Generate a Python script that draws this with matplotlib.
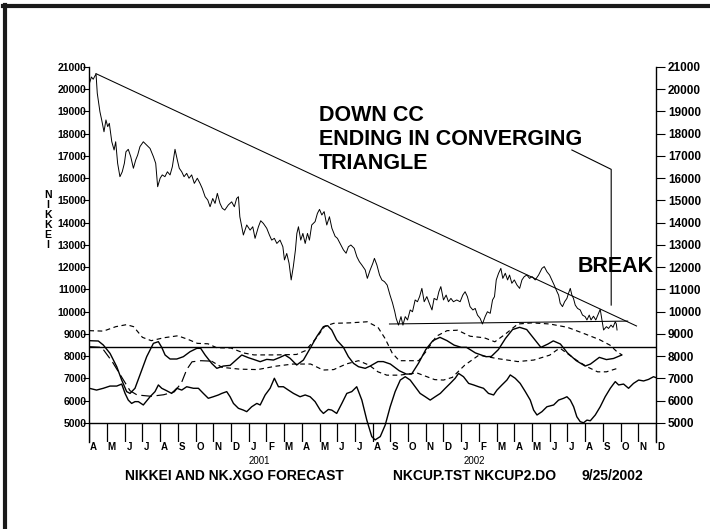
import matplotlib
matplotlib.use("Agg")
import matplotlib.pyplot as plt
from matplotlib.lines import Line2D
from matplotlib.transforms import blended_transform_factory

plt.rcParams["font.family"] = ["Liberation Sans", "DejaVu Sans"]

# x values are months since 1 April 2000
price_m = [0.02, 0.12, 0.22, 0.38, 0.45, 0.6, 0.7, 0.83, 0.94, 1.04, 1.13, 1.27, 1.4, 1.49,
           1.6, 1.73, 1.86, 1.98, 2.07, 2.2, 2.34, 2.49, 2.62, 2.73, 2.86, 3.05, 3.24, 3.43,
           3.62, 3.75, 3.86, 4.0, 4.12, 4.27, 4.41, 4.56, 4.69, 4.84, 4.97, 5.08, 5.22, 5.35,
           5.5, 5.63, 5.78, 5.93, 6.1, 6.25, 6.38, 6.54, 6.69, 6.82, 6.97, 7.1, 7.23, 7.38,
           7.51, 7.65, 7.85, 8.04, 8.19, 8.32, 8.42, 8.5, 8.7, 8.89, 9.08, 9.23, 9.36, 9.55,
           9.68, 9.83, 10.02, 10.17, 10.3, 10.45, 10.59, 10.77, 10.93, 11.02, 11.15, 11.28,
           11.4, 11.52, 11.64, 11.72, 11.81, 11.94, 12.06, 12.19, 12.32, 12.43, 12.56, 12.75,
           12.88, 13.0, 13.13, 13.26, 13.41, 13.56, 13.7, 13.88, 14.01, 14.16, 14.35, 14.5,
           14.63, 14.77, 14.96, 15.11, 15.25, 15.39, 15.58, 15.7, 15.86, 16.01, 16.1, 16.24,
           16.39, 16.52, 16.67, 16.82, 16.98, 17.12, 17.25, 17.33, 17.46, 17.6, 17.71, 17.84,
           17.97, 18.12, 18.25, 18.4, 18.53, 18.65, 18.78, 18.91, 19.06, 19.2, 19.35, 19.47,
           19.63, 19.74, 19.85, 20.0, 20.15, 20.28, 20.42, 20.56, 20.75, 20.94, 21.09, 21.22,
           21.35, 21.5, 21.66, 21.79, 21.92, 22.07, 22.2, 22.35, 22.48, 22.64, 22.77, 22.88,
           22.98, 23.11, 23.24, 23.35, 23.49, 23.62, 23.73, 23.86, 24.0, 24.15, 24.3, 24.43,
           24.56, 24.71, 24.86, 25.0, 25.18, 25.37, 25.56, 25.69, 25.84, 25.99, 26.12, 26.25,
           26.41, 26.5, 26.59, 26.72, 26.84, 26.97, 27.06, 27.16, 27.25, 27.34, 27.44, 27.57,
           27.72, 27.85, 28.0, 28.1, 28.23, 28.33, 28.47, 28.6, 28.76, 28.85, 28.95, 29.04,
           29.2, 29.32, 29.46, 29.57, 29.7, 29.76, 29.8]
price_v = [20300, 20550, 20450, 20690, 19820, 18990, 18620, 18090, 18620, 18320, 18470, 17640,
           17270, 17640, 16670, 16070, 16290, 16670, 17190, 17300, 16970, 16450, 16820, 17040,
           17420, 17640, 17490, 17340, 16970, 16670, 15620, 16000, 16150, 16070, 16290, 16150,
           16520, 17300, 16820, 16450, 16290, 16070, 16220, 16000, 16150, 15770, 16000, 15770,
           15540, 15170, 15020, 14720, 15090, 14870, 15320, 14870, 14650, 14570, 14800, 14940,
           14720, 15090, 15170, 14270, 13450, 13900, 13670, 13820, 13300, 13820, 14090, 13970,
           13750, 13450, 13220, 13300, 13070, 13220, 12920, 12330, 12620, 12180, 11430, 12030,
           12780, 13520, 13820, 13220, 13520, 13070, 13520, 13220, 13900, 14050, 14420, 14600,
           14350, 14500, 13900, 14270, 13750, 13390, 13300, 13070, 12780, 12630, 12920, 13000,
           12850, 12470, 12250, 12100, 11880, 11500, 11880, 12180, 12400, 12100, 11650, 11430,
           11350, 11200, 10750, 10400, 10000, 9700, 9400, 9780, 9400, 9780, 9630, 10080, 10000,
           10530, 10450, 10680, 11050, 10450, 10680, 10380, 10080, 10600, 10530, 10900, 11130,
           10530, 10750, 10450, 10600, 10450, 10530, 10450, 10750, 10900, 10680, 10230, 10080,
           10150, 9850, 9700, 9450, 9780, 10000, 9930, 10530, 10680, 11430, 11730, 11950, 11500,
           11730, 11430, 11650, 11280, 11430, 11200, 11050, 11430, 11580, 11650, 11500, 11580,
           11430, 11650, 11950, 12030, 11800, 11650, 11430, 11200, 10900, 10750, 10380, 10230,
           10450, 10600, 10830, 11050, 10750, 10600, 10300, 10150, 10080, 9850, 9780, 9630,
           9850, 9630, 9800, 9630, 9930, 10110, 9630, 9180, 9330, 9250, 9400, 9300, 9550, 9450,
           9180]

# solid cycle line in the lower panel
cycle_m = [0, 0.51, 0.79, 1.17, 1.55, 1.83, 2.11, 2.3, 2.58, 2.86, 3.24, 3.62, 3.9, 4.09, 4.28,
           4.56, 4.94, 5.31, 5.69, 6.07, 6.29, 6.54, 6.91, 7.2, 7.57, 7.95, 8.33, 8.61, 8.98,
           9.27, 9.65, 10.02, 10.4, 10.77, 11.05, 11.34, 11.71, 12.09, 12.47, 12.84, 13.22,
           13.46, 13.69, 13.97, 14.35, 14.63, 14.92, 15.2, 15.58, 15.86, 16.3, 16.6, 17.0, 17.5,
           17.9, 18.2, 18.6, 19.0, 19.4, 19.8, 20.2, 20.6, 21.0, 21.3, 21.8, 22.4, 22.7, 23.1,
           23.5, 23.9, 24.3, 24.7, 25.1, 25.5, 25.9, 26.2, 26.6, 27.0, 27.5, 28.0, 28.3, 28.8,
           29.2, 29.6, 30.05]
cycle_v = [8700, 8685, 8505, 8130, 7530, 6930, 6410, 6330, 6560, 7160, 7980, 8580, 8655, 8400,
           8056, 7876, 7876, 7980, 8205, 8355, 8355, 8056, 7680, 7457, 7560, 7590, 7860, 8056,
           7936, 7860, 7756, 7860, 7830, 7950, 8056, 7906, 7606, 7830, 8355, 8880, 9330, 9374,
           9180, 8730, 8400, 7980, 7680, 7530, 7457, 7560, 7760, 7760, 7650, 7350, 7200, 7200,
           7700, 8300, 8700, 8850, 8700, 8500, 8400, 8400, 8150, 7980, 7990, 8300, 8800, 9200,
           9300, 9200, 8800, 8400, 8550, 8690, 8550, 8150, 7800, 7560, 7650, 7950, 7850, 7900,
           8050]

# bottom forecast line (runs past the last price)
fcst_m = [0, 0.41, 0.79, 1.17, 1.55, 1.83, 2.02, 2.2, 2.39, 2.58, 2.77, 3.05, 3.43, 3.71, 3.9,
          4.09, 4.37, 4.65, 4.94, 5.22, 5.5, 5.88, 6.16, 6.44, 6.72, 7.0, 7.29, 7.48, 7.76,
          7.95, 8.14, 8.42, 8.7, 8.89, 9.17, 9.46, 9.65, 9.93, 10.21, 10.45, 10.68, 10.96,
          11.24, 11.53, 11.9, 12.19, 12.47, 12.75, 13.04, 13.22, 13.5, 13.69, 13.97, 14.26,
          14.54, 14.82, 15.1, 15.39, 15.67, 15.95, 16.14, 16.43, 16.71, 16.99, 17.27, 17.56,
          17.84, 18.12, 18.4, 18.68, 18.97, 19.25, 19.53, 19.82, 20.1, 20.38, 20.66, 20.85,
          21.13, 21.42, 21.7, 21.98, 22.26, 22.54, 22.83, 23.02, 23.3, 23.58, 23.77, 24.05,
          24.33, 24.62, 24.9, 25.09, 25.28, 25.56, 25.84, 26.22, 26.5, 26.78, 26.97, 27.16,
          27.35, 27.53, 27.72, 27.91, 28.1, 28.29, 28.57, 28.85, 29.13, 29.42, 29.7, 29.89,
          30.17, 30.45, 30.73, 31.02, 31.3, 31.58, 31.86, 32.0]
fcst_v = [6560, 6480, 6560, 6660, 6660, 6750, 6330, 6030, 5880, 5960, 5960, 5810, 6180, 6410,
          6710, 6560, 6450, 6330, 6560, 6480, 6630, 6560, 6560, 6330, 6110, 6180, 6260, 6330,
          6410, 6180, 5880, 5660, 5580, 5510, 5730, 5880, 5810, 6260, 6560, 7010, 6630, 6630,
          6480, 6330, 6180, 6260, 6180, 5960, 5580, 5430, 5610, 5580, 5430, 5880, 6330, 6410,
          6630, 6030, 5130, 4390, 4240, 4390, 4910, 5730, 6410, 6930, 7080, 6930, 6630, 6330,
          6180, 6030, 6180, 6330, 6560, 6780, 7010, 7230, 7080, 6780, 6710, 6630, 6560, 6330,
          6260, 6480, 6710, 6930, 7160, 7010, 6780, 6410, 6030, 5580, 5360, 5510, 5730, 5810,
          6030, 6110, 6180, 6030, 5730, 5280, 5060, 5010, 5130, 5100, 5360, 5730, 6180, 6560,
          6860, 6710, 6750, 6560, 6780, 6930, 6890, 6960, 7080, 7040]

# upper short-dashed band
upper_m = [0, 0.8, 1.5, 2.1, 2.5, 3.0, 3.5, 4.2, 5.0, 5.6, 6.1, 6.7, 7.2, 8.0, 8.7, 9.3, 10.5,
           11.7, 12.2, 12.8, 13.3, 13.8, 14.7, 15.7, 16.3, 16.7, 17.1, 17.5, 18.6, 19.0, 19.6,
           20.2, 20.8, 21.5, 22.3, 22.9, 23.5, 24.2, 25.0, 26.0, 27.0, 28.0, 28.8, 29.4, 29.8,
           30.1]
upper_v = [9150, 9130, 9330, 9420, 9330, 8850, 8700, 8830, 8920, 8750, 8580, 8560, 8380, 8370,
           8150, 8060, 8060, 8080, 8250, 8800, 9350, 9480, 9500, 9550, 9300, 8800, 8150, 7800,
           7800, 8200, 8900, 9150, 9170, 8900, 8830, 8650, 9000, 9450, 9500, 9450, 9300, 9000,
           8750, 8500, 8200, 8050]

# long-dashed lagging line
lag_m = [0, 0.7, 1.3, 1.8, 2.3, 2.7, 3.5, 4.2, 4.8, 5.2, 5.5, 5.8, 6.3, 6.9]
lag_v = [8430, 8400, 7750, 7100, 6450, 6260, 6200, 6270, 6400, 6800, 7400, 7750, 7800, 7780]

# lower short-dashed band
lower_m = [6.9, 7.5, 8.5, 9.5, 10.5, 11.5, 12.5, 13.2, 13.8, 14.5, 15.2, 15.8, 16.3, 16.8,
           17.5, 18.5, 19.5, 20.0, 20.5, 21.2, 22.0, 23.0, 24.2, 25.1, 26.0, 26.4, 26.6, 27.5,
           28.1, 28.7, 29.2, 29.8]
lower_v = [7780, 7500, 7420, 7400, 7550, 7650, 7650, 7380, 7400, 7650, 7800, 7600, 7300, 7150,
           7150, 7250, 6950, 6930, 7050, 7600, 8050, 7900, 7760, 7830, 8050, 8280, 8350, 7830,
           7530, 7300, 7300, 7450]

# drawn trend lines: (month, value) end points
trend_m = [0.38, 30.9]
trend_v = [20700, 9360]
support_m = [16.95, 30.4]
support_v = [9450, 9580]
level = 8400
base = 5000

month_letters = list("AMJJASONDJFMAMJJASONDJFMAMJJASOND")
years = ["2001", "2002"]
year_m = [9.6, 21.75]

Y_LOW, Y_HIGH = 4146, 21000


def main():
    fig = plt.figure(figsize=(7.1, 5.29), dpi=100)
    ax = fig.add_axes([89.3 / 710, 87 / 529, (656 - 89.3) / 710, 375 / 529])

    ax.plot(price_m, price_v, color="black", lw=0.7)
    ax.plot(trend_m, trend_v, color="black", lw=0.75)
    ax.plot(support_m, support_v, color="black", lw=0.75)
    ax.axhline(level, color="black", lw=1.0)
    ax.axhline(base, color="black", lw=1.0)

    ax.plot(cycle_m, cycle_v, color="black", lw=1.0)
    ax.plot(fcst_m, fcst_v, color="black", lw=1.0)
    ax.plot(upper_m, upper_v, color="black", lw=0.85, dashes=(4, 3))
    ax.plot(lag_m, lag_v, color="black", lw=0.85, dashes=(9, 4))
    ax.plot(lower_m, lower_v, color="black", lw=0.85, dashes=(4, 3))

    months = list(range(len(month_letters)))
    ax.vlines(months, Y_LOW, base, color="black", lw=0.9)

    ax.set_xlim(0, 32)
    ax.set_ylim(Y_LOW, Y_HIGH)
    for s in ("top", "bottom", "right"):
        ax.spines[s].set_visible(False)
    ax.spines["left"].set_linewidth(1.0)
    ax.set_xticks([])
    ticks = list(range(5000, 21001, 1000))
    ax.set_yticks(ticks)
    ax.set_yticklabels([str(t) for t in ticks], fontsize=7.5, fontweight="bold")
    ax.tick_params(axis="y", length=4, width=0.8, pad=-2)

    rax = ax.twinx()
    rax.set_ylim(Y_LOW, Y_HIGH)
    for s in ("top", "bottom", "left"):
        rax.spines[s].set_visible(False)
    rax.spines["right"].set_linewidth(1.0)
    rax.set_yticks(ticks)
    rax.set_yticklabels([str(t) for t in ticks], fontsize=8.5, fontweight="bold")
    rax.tick_params(axis="y", length=6.5, width=0.8, pad=2)

    # month letters under the axis
    tr = blended_transform_factory(ax.transData, ax.transAxes)
    for m, lab in zip(months, month_letters):
        ax.text(m + 0.25, -0.013, lab, transform=tr, ha="center", va="center",
                fontsize=7, fontweight="bold", clip_on=False)
    for m, lab in zip(year_m, years):
        ax.text(m, -0.05, lab, transform=tr, ha="center", va="center",
                fontsize=7, clip_on=False)

    # annotations
    big = dict(fontsize=15.5, fontweight="bold", color="black")
    for i, line in enumerate(["DOWN CC", "ENDING IN CONVERGING", "TRIANGLE"]):
        ax.text(12.98, 18570 - i * 1075, line, ha="left", va="baseline", **big)
    ax.plot([27.25, 29.47, 29.47], [17270, 16400, 10300], color="black", lw=0.8)
    ax.text(31.85, 11790, "BREAK", ha="right", va="baseline", **big)

    fig.text(48 / 710, 1 - 220 / 529, "N\nI\nK\nK\nE\nI", ha="center", va="center",
             fontsize=7.5, fontweight="bold", linespacing=1.0)

    foot = dict(fontsize=10, fontweight="bold", va="center")
    fig.text(125 / 710, 1 - 475.5 / 529, "NIKKEI AND NK.XGO FORECAST", ha="left", **foot)
    fig.text(393 / 710, 1 - 475.5 / 529, "NKCUP.TST NKCUP2.DO", ha="left", **foot)
    fig.text(643 / 710, 1 - 475.5 / 529, "9/25/2002", ha="right", **foot)

    # page frame (left and top edges)
    fig.add_artist(Line2D([5 / 710, 5 / 710], [0, 1 - 5 / 529], color="#1a1a1a", lw=3,
                          transform=fig.transFigure))
    fig.add_artist(Line2D([3 / 710, 1], [1 - 5.5 / 529, 1 - 5.5 / 529], color="#1a1a1a",
                          lw=3, transform=fig.transFigure))

    fig.savefig("out.png", dpi=100)


if __name__ == "__main__":
    main()
